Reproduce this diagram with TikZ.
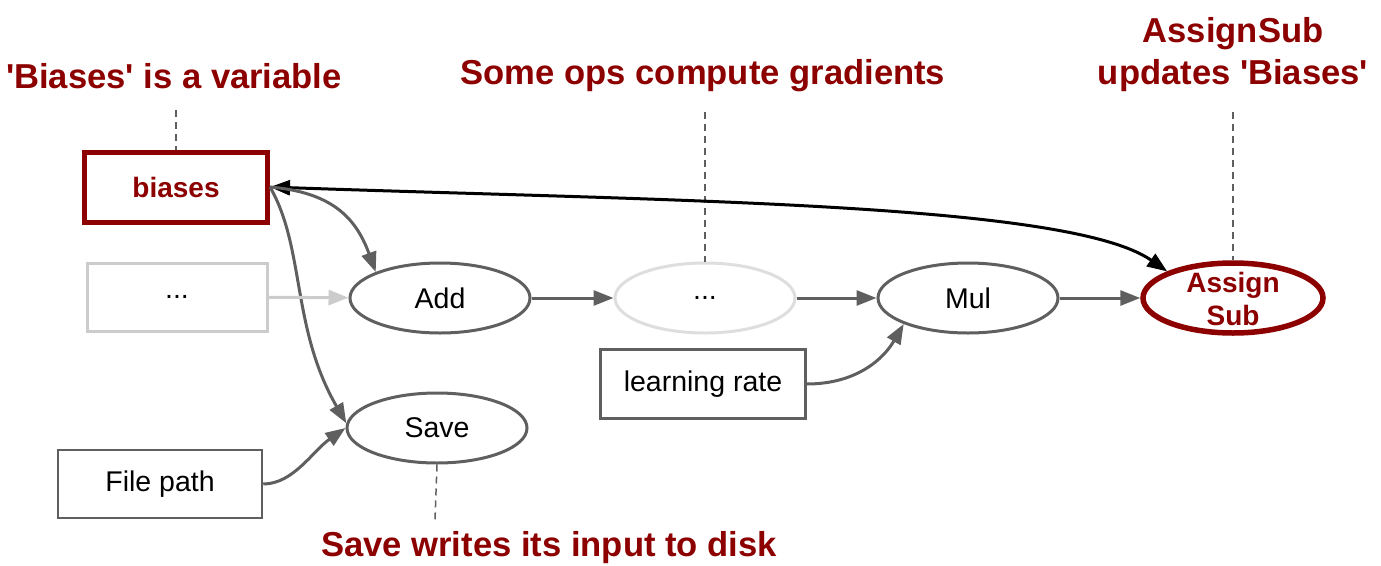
\documentclass[tikz,border=0pt]{standalone}
\usepackage{fontspec}
\setmainfont{Liberation Sans}
\usetikzlibrary{arrows.meta,shapes.geometric}
\definecolor{dred}{RGB}{140,0,0}
\definecolor{lgray}{RGB}{204,204,204}
\definecolor{egray}{RGB}{222,222,222}
\definecolor{mgray}{RGB}{95,95,95}
\tikzset{
  op/.style={ellipse, draw=mgray, line width=3pt, minimum width=180pt, minimum height=70pt, inner sep=0pt, font=\fontsize{28.5}{32}\selectfont},
  box/.style={rectangle, draw=mgray, line width=2.5pt, inner sep=0pt, font=\fontsize{28.5}{32}\selectfont},
  edge/.style={draw=mgray, line width=3pt, -{Triangle[length=20pt,width=15pt]}},
  titletext/.style={font=\bfseries\fontsize{34.6}{42}\selectfont, text=dred, align=center},
  guide/.style={draw=mgray, line width=1.5pt, dash pattern=on 7pt off 5pt},
}
\begin{document}
\begin{tikzpicture}[x=1pt,y=-1pt]
\path[use as bounding box] (0,0) rectangle (1381,565);
% titles
\node[titletext] (t1) at (174,76) {\textquotesingle Biases\textquotesingle\ is a variable};
\node[titletext] (t2) at (703,76) {Some ops compute gradients};
\node[titletext] (t3) at (1233,55) {AssignSub\\updates \textquotesingle Biases\textquotesingle};
\node[titletext] (t4) at (549,548) {Save writes its input to disk};
% nodes
\node[box, draw=dred, line width=5pt, minimum width=183pt, minimum height=70pt, font=\bfseries\fontsize{28}{32}\selectfont, text=dred] (biases) at (176,187) {biases};
\node[box, draw=lgray, line width=3pt, minimum width=180pt, minimum height=68pt] (dots1) at (177,297) {...};
\node[op] (add) at (440,298) {Add};
\node[op, draw=egray] (dots2) at (705,298) {...};
\node[op] (mul) at (968,298) {Mul};
\node[op, draw=dred, line width=5.5pt] (assign) at (1233,298) {};
\node[font=\bfseries\fontsize{28}{33}\selectfont, text=dred, align=center] (assigntxt) at (1233,299) {Assign\\Sub};
\node[box, minimum width=205pt, minimum height=69pt] (lr) at (703,384) {learning rate};
\node[op] (save) at (437,428) {Save};
\node[box, minimum width=204pt, minimum height=68pt] (fp) at (160,484) {File path};
% guides
\coordinate (g1) at (176,110);
\coordinate (g2) at (705,112);
\coordinate (g3) at (1233,112);
\coordinate (g4) at (435,520);
\draw[guide] (g1) -- (biases.north);
\draw[guide] (g2) -- (dots2.north);
\draw[guide] (g3) -- (assign.north);
\draw[guide] (save.south) -- (g4);
% edges
\draw[line width=3pt, black, {Triangle[length=20pt,width=15pt]}-{Triangle[length=20pt,width=15pt]}] (biases.east) to[out=-2, in=145, out distance=400pt, in distance=120pt] (assign.158);
\draw[edge] (biases.east) to[out=-5, in=110, out distance=60pt, in distance=60pt] (add.158);
\draw[edge] (biases.east) to[out=-60, in=120, out distance=70pt, in distance=110pt] (save.177);
\draw[edge, draw=lgray] (dots1) -- (add);
\draw[edge] (add) -- (dots2);
\draw[edge] (dots2) -- (mul);
\draw[edge] (mul) -- (assign);
\draw[edge] (lr.east) to[out=0, in=-120, out distance=50pt, in distance=40pt] (mul.202);
\draw[edge] (fp.east) to[out=0, in=215, out distance=30pt, in distance=40pt] (save.west);
\end{tikzpicture}
\end{document}
